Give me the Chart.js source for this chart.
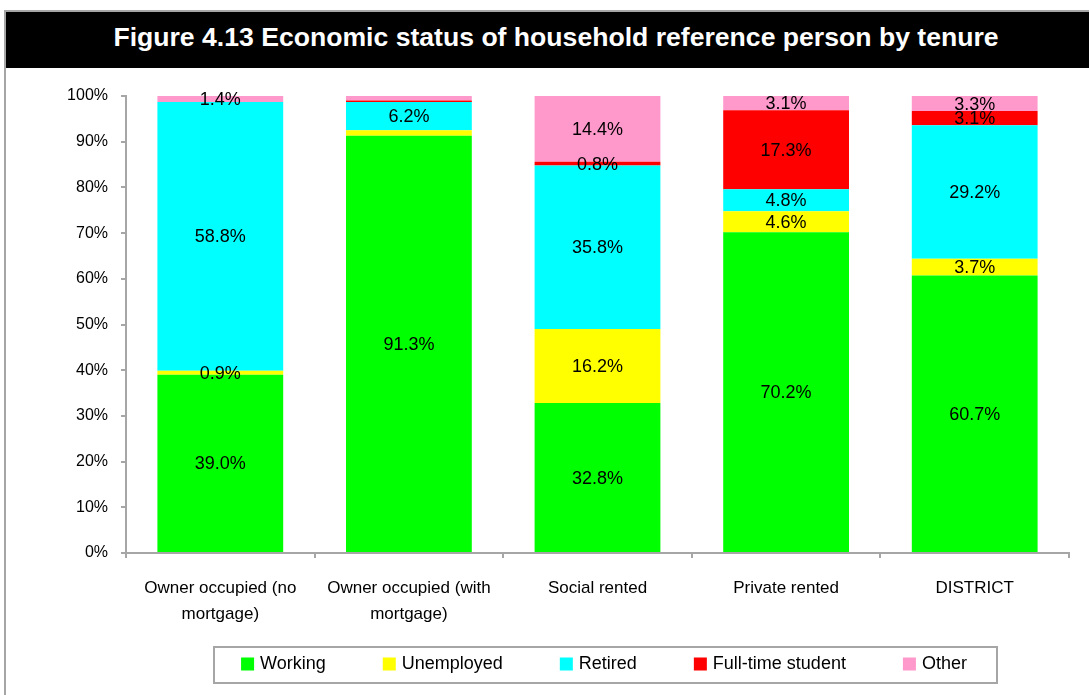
<!DOCTYPE html>
<html><head><meta charset="utf-8">
<script src="https://cdn.jsdelivr.net/npm/chart.js@4"></script>
<style>
html,body{margin:0;padding:0;background:#fff;}
#wrap{position:relative;width:1089px;height:695px;overflow:hidden;font-family:"Liberation Sans",Arial,sans-serif;}
#frame{position:absolute;left:4px;top:10px;width:1110px;height:700px;border-left:2px solid #a6a6a6;border-top:2px solid #a6a6a6;}
#band{position:absolute;left:6px;top:12px;width:1100px;height:56px;background:#000;}
#title{position:absolute;left:6px;top:24px;width:1100px;text-align:center;color:#fff;font-weight:bold;font-size:26.6px;line-height:26px;white-space:nowrap;}
canvas{position:absolute;left:0;top:0;}
</style></head>
<body><div id="wrap"><div id="frame"></div><div id="band"></div><div id="title">Figure 4.13 Economic status of household reference person by tenure</div><canvas id="c" width="1089" height="695"></canvas></div>
<script>
const categories = [["Owner occupied (no","mortgage)"],["Owner occupied (with","mortgage)"],"Social rented","Private rented","DISTRICT"];
const seriesNames = ["Working","Unemployed","Retired","Full-time student","Other"];
const working    = [39.0, 91.3, 32.8, 70.2, 60.7];
const unemployed = [0.9, 1.2, 16.2, 4.6, 3.7];
const retired    = [58.8, 6.2, 35.8, 4.8, 29.2];
const student    = [0.0, 0.3, 0.8, 17.3, 3.1];
const other      = [1.4, 1.0, 14.4, 3.1, 3.3];
// which value labels are printed on the bars
const showWorking    = [true, true, true, true, true];
const showUnemployed = [true, false, true, true, true];
const showRetired    = [true, true, true, true, true];
const showStudent    = [false, false, true, true, true];
const showOther      = [true, false, true, true, true];
const yTickValues = [0,10,20,30,40,50,60,70,80,90,100];

const colors = ["#00ff00","#ffff00","#00ffff","#ff0000","#ff99cc"];
const allData = [working, unemployed, retired, student, other];
const allShow = [showWorking, showUnemployed, showRetired, showStudent, showOther];
const FONT = '"Liberation Sans", Arial, sans-serif';
Chart.defaults.color = '#000';
Chart.defaults.font.family = FONT;

const labelPlugin = {
  id: 'barLabels',
  afterDatasetsDraw(chart) {
    const ctx = chart.ctx;
    ctx.save();
    ctx.font = '18px ' + FONT;
    ctx.fillStyle = '#000';
    ctx.textAlign = 'center';
    ctx.textBaseline = 'middle';
    chart.data.datasets.forEach((ds, di) => {
      const meta = chart.getDatasetMeta(di);
      meta.data.forEach((bar, i) => {
        if (!allShow[di][i]) return;
        const p = bar.getProps(['x','y','base'], true);
        ctx.fillText(ds.data[i].toFixed(1) + '%', p.x, (p.y + p.base) / 2 + 1);
      });
    });
    ctx.restore();
  }
};

const legendPlugin = {
  id: 'boxLegend',
  afterDraw(chart) {
    const ctx = chart.ctx;
    ctx.save();
    ctx.font = '18px ' + FONT;
    const sq = 13, gapText = 6, gapItem = 57;
    const widths = seriesNames.map(n => ctx.measureText(n).width);
    let total = 0;
    widths.forEach((w, i) => { total += sq + gapText + w + (i < widths.length - 1 ? gapItem : 0); });
    const cx = 604, cy = 664;
    let x = cx - total / 2;
    ctx.strokeStyle = '#a6a6a6';
    ctx.lineWidth = 2;
    ctx.strokeRect(214, 647, 783, 36);
    ctx.textBaseline = 'middle';
    ctx.textAlign = 'left';
    seriesNames.forEach((n, i) => {
      ctx.fillStyle = colors[i];
      ctx.fillRect(x, cy - sq / 2, sq, sq);
      ctx.fillStyle = '#000';
      ctx.fillText(n, x + sq + gapText, cy);
      x += sq + gapText + widths[i] + gapItem;
    });
    ctx.restore();
  }
};

new Chart(document.getElementById('c'), {
  type: 'bar',
  data: {
    labels: categories,
    datasets: seriesNames.map((n, i) => ({
      label: n,
      data: allData[i],
      backgroundColor: colors[i],
      borderWidth: 0,
      barPercentage: 0.667,
      categoryPercentage: 1.0
    }))
  },
  options: {
    responsive: false,
    devicePixelRatio: 1,
    animation: false,
    layout: { padding: { top: 96, right: 20, bottom: 0, left: 0 } },
    plugins: { legend: { display: false }, title: { display: false }, tooltip: { enabled: false } },
    scales: {
      x: {
        stacked: true,
        grid: { drawOnChartArea: false, drawTicks: true, tickLength: 5, color: '#a6a6a6', lineWidth: 2, offset: true },
        border: { color: '#a6a6a6', width: 2 },
        ticks: { font: { size: 17, lineHeight: 1.55 }, padding: 17, maxRotation: 0, autoSkip: false },
        afterFit(s) { s.height = 142; }
      },
      y: {
        stacked: true,
        min: 0, max: 100,
        afterBuildTicks(s) { s.ticks = yTickValues.map(v => ({ value: v })); },
        grid: { drawOnChartArea: false, drawTicks: true, tickLength: 5, color: '#a6a6a6', lineWidth: 2 },
        border: { color: '#a6a6a6', width: 2 },
        ticks: { font: { size: 16 }, padding: 13, callback: v => v + '%' },
        afterFit(s) { s.width = 126; }
      }
    }
  },
  plugins: [labelPlugin, legendPlugin]
});
</script>
</body></html>
